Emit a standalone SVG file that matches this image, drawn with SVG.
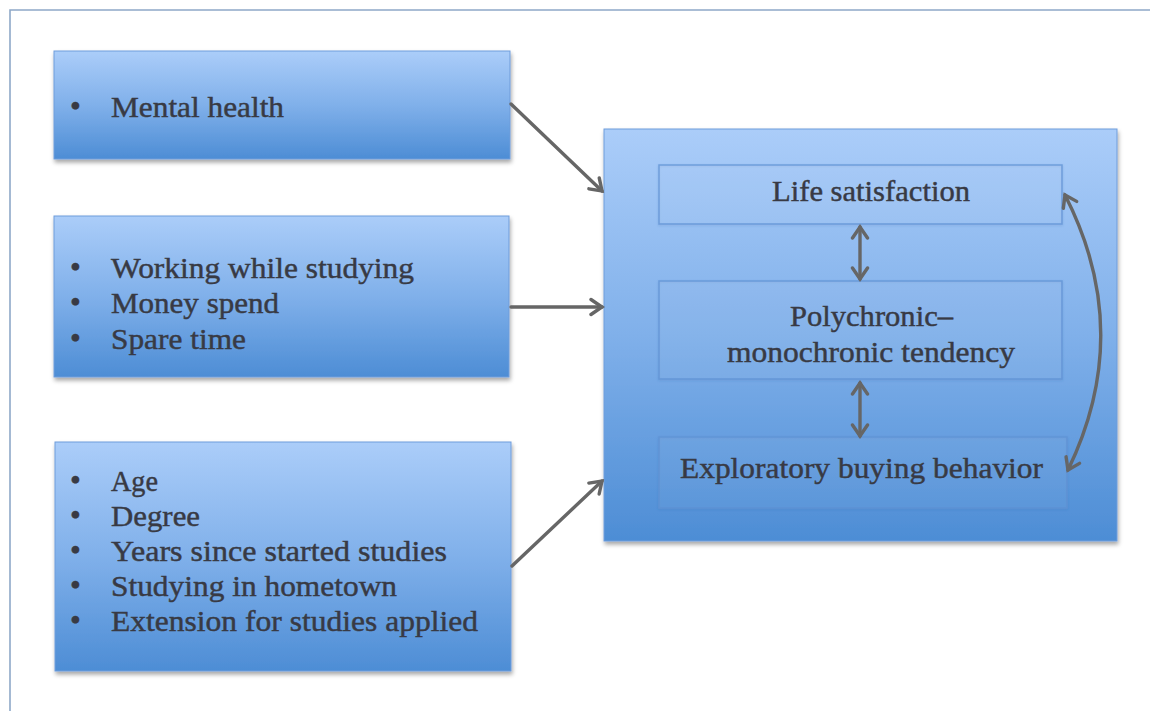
<svg xmlns="http://www.w3.org/2000/svg" width="1150" height="711" viewBox="0 0 1150 711">
  <defs>
    <linearGradient id="blueGrad" x1="0" y1="0" x2="0" y2="1">
      <stop offset="0" stop-color="#abcdf9"/>
      <stop offset="0.5" stop-color="#80b0ea"/>
      <stop offset="1" stop-color="#4d8dd5"/>
    </linearGradient>
    <filter id="shadow" x="-5%" y="-5%" width="112%" height="115%">
      <feDropShadow dx="1" dy="3" stdDeviation="2" flood-color="#000" flood-opacity="0.35"/>
    </filter>
    <filter id="soft" x="-5%" y="-10%" width="110%" height="130%">
      <feDropShadow dx="0" dy="1" stdDeviation="1" flood-color="#2a5d9c" flood-opacity="0.25"/>
    </filter>
    <marker id="chev" markerUnits="userSpaceOnUse" markerWidth="20" markerHeight="20" viewBox="0 0 20 20" refX="17" refY="10" orient="auto-start-reverse">
      <path d="M6,2.5 L17,10 L6,17.5" fill="none" stroke="#666666" stroke-width="3.4" stroke-linejoin="miter" stroke-linecap="round"/>
    </marker>
    <style>
      .box { fill: url(#blueGrad); stroke: #6f9ddb; stroke-width: 1; filter: url(#shadow); }
      .inner { fill: #ffffff; fill-opacity: 0.04; stroke: #5f92d4; stroke-opacity: 0.75; stroke-width: 1.5; filter: url(#soft); }
      .txt { font-family: "Liberation Serif", "DejaVu Serif", serif; font-size: 30px; fill: #383a44; stroke: #383a44; stroke-width: 0.45; }
      .bul { font-family: "Liberation Serif", "DejaVu Serif", serif; font-size: 31px; fill: #383a44; stroke: #383a44; stroke-width: 0.4; }
      .ctr { text-anchor: middle; }
      .conn { fill: none; stroke: #666666; stroke-width: 3.4; stroke-linecap: round; }
      .frame { fill: none; stroke: #8ea8c8; stroke-width: 1.6; }
    </style>
  </defs>

  <rect width="1150" height="711" fill="#ffffff"/>
  <path class="frame" d="M10,711 L10,10 L1150,10"/>

  <g id="node-mental">
    <rect class="box" x="54" y="51" width="456" height="108"/>
    <text class="bul" x="70" y="117">•</text>
    <text class="txt" x="111" y="117" textLength="173" lengthAdjust="spacingAndGlyphs">Mental health</text>
  </g>

  <g id="node-work">
    <rect class="box" x="54" y="216" width="455" height="161"/>
    <text class="bul" x="70" y="278">•</text>
    <text class="txt" x="111" y="278" textLength="303" lengthAdjust="spacingAndGlyphs">Working while studying</text>
    <text class="bul" x="70" y="313">•</text>
    <text class="txt" x="111" y="313" textLength="168" lengthAdjust="spacingAndGlyphs">Money spend</text>
    <text class="bul" x="70" y="348.5">•</text>
    <text class="txt" x="111" y="348.5" textLength="135" lengthAdjust="spacingAndGlyphs">Spare time</text>
  </g>

  <g id="node-demo">
    <rect class="box" x="55" y="442" width="456" height="229"/>
    <text class="bul" x="70" y="491">•</text>
    <text class="txt" x="111" y="491" textLength="47" lengthAdjust="spacingAndGlyphs">Age</text>
    <text class="bul" x="70" y="526">•</text>
    <text class="txt" x="111" y="526" textLength="89" lengthAdjust="spacingAndGlyphs">Degree</text>
    <text class="bul" x="70" y="561">•</text>
    <text class="txt" x="111" y="561" textLength="336" lengthAdjust="spacingAndGlyphs">Years since started studies</text>
    <text class="bul" x="70" y="596">•</text>
    <text class="txt" x="111" y="596" textLength="286" lengthAdjust="spacingAndGlyphs">Studying in hometown</text>
    <text class="bul" x="70" y="631">•</text>
    <text class="txt" x="111" y="631" textLength="367" lengthAdjust="spacingAndGlyphs">Extension for studies applied</text>
  </g>

  <g id="node-outcomes">
    <rect class="box" x="604" y="129" width="513" height="412"/>
  </g>

  <g id="node-life">
    <rect class="inner" x="659" y="165" width="403" height="59"/>
    <text class="txt ctr" x="871" y="201" textLength="198" lengthAdjust="spacingAndGlyphs">Life satisfaction</text>
  </g>

  <g id="node-poly">
    <rect class="inner" x="659" y="281" width="403" height="98"/>
    <text class="txt ctr" x="871.5" y="326" textLength="163" lengthAdjust="spacingAndGlyphs">Polychronic–</text>
    <text class="txt ctr" x="871" y="362" textLength="288" lengthAdjust="spacingAndGlyphs">monochronic tendency</text>
  </g>

  <g id="node-explore">
    <rect class="inner" x="659" y="437" width="408" height="71"/>
    <text class="txt ctr" x="861.5" y="478" textLength="363" lengthAdjust="spacingAndGlyphs">Exploratory buying behavior</text>
  </g>

  <g id="connectors">
    <line class="conn" x1="511" y1="104" x2="602" y2="191" marker-end="url(#chev)"/>
    <line class="conn" x1="511" y1="307" x2="602" y2="307" marker-end="url(#chev)"/>
    <line class="conn" x1="512" y1="566" x2="602" y2="481" marker-end="url(#chev)"/>
    <line class="conn" x1="860" y1="227" x2="860" y2="279" marker-start="url(#chev)" marker-end="url(#chev)"/>
    <line class="conn" x1="860" y1="383" x2="860" y2="436" marker-start="url(#chev)" marker-end="url(#chev)"/>
    <path class="conn" d="M1065,195 Q1135,332 1068,470" marker-start="url(#chev)" marker-end="url(#chev)"/>
  </g>
</svg>
